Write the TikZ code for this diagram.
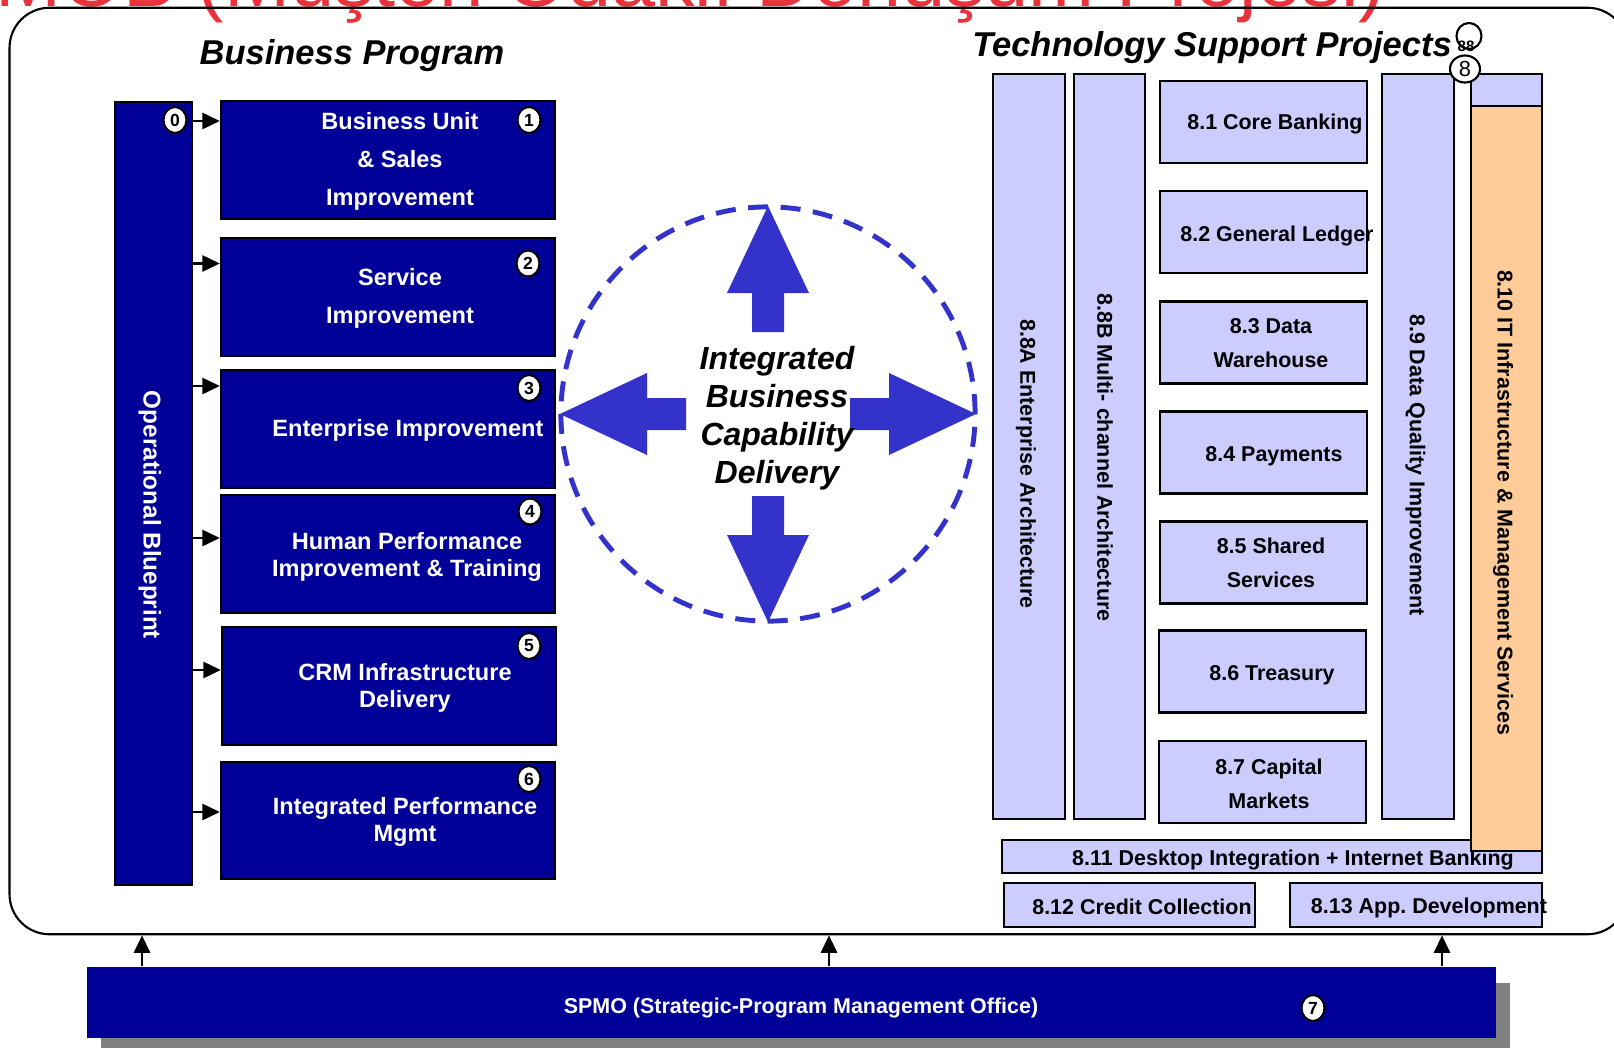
\documentclass[tikz,border=0pt]{standalone}
\usepackage{fontspec}
\setmainfont{Liberation Sans}
\usetikzlibrary{arrows.meta,shapes.geometric}
\definecolor{progblue}{RGB}{0,0,153}
\definecolor{techlilac}{RGB}{204,204,255}
\definecolor{infraorange}{RGB}{255,204,153}
\definecolor{hubblue}{RGB}{51,51,204}
\definecolor{titlered}{RGB}{233,50,60}
\definecolor{shadegray}{RGB}{128,128,128}
\tikzset{
	progbox/.style={draw=black, line width=0.6pt, fill=progblue, minimum width=3.34cm, minimum height=1.18cm, inner sep=0pt},
	progtext/.style={text=white, font=\fontsize{6.7}{10.8}\selectfont\bfseries, align=center, inner sep=0pt},
	progtight/.style={progtext, font=\fontsize{6.7}{7.7}\selectfont\bfseries},
	techbox/.style={draw=black, line width=0.6pt, fill=techlilac, inner sep=0pt},
	techtext/.style={font=\fontsize{6.1}{9.7}\selectfont\bfseries, align=center, inner sep=0pt},
	badge/.style={ellipse, draw=black, line width=0.6pt, fill=white, minimum width=0.23cm, minimum height=0.26cm, inner sep=0pt, font=\fontsize{5}{5}\selectfont\bfseries},
	link/.style={-{Triangle[length=5pt,width=4.6pt]}, line width=0.7pt},
	heading/.style={font=\fontsize{9.8}{11}\selectfont\bfseries\itshape, inner sep=0pt}
}
\begin{document}
\frenchspacing
\begin{tikzpicture}[x=0.01cm, y=-0.01cm]
			\useasboundingbox (0,0) rectangle (1614,1048);
			\begin{scope}
				\clip (0,0) rectangle (1614,1048);
				\node[anchor=base west, inner sep=0pt, text=titlered, font=\fontsize{22.5}{24}\selectfont] (title) at (-5,6) {MOB (Müşteri Odaklı Dönüşüm Projesi)};
				\node[draw=black, line width=0.6pt, rounded corners=0.4cm, minimum width=16.17cm, minimum height=9.26cm] (frame) at (818.5,471) {};
				\node[fill=shadegray, minimum width=14.09cm, minimum height=0.71cm] (spmoshade) at (805.5,1018.5) {};
			\end{scope}
			\node[heading] (bizhead) at (352,56) {Business Program};
			\node[heading] (techhead) at (1212,48) {Technology Support Projects};

			\node[progbox, minimum width=0.77cm, minimum height=7.83cm] (ob) at (153.5,493.5) {};
			\node[progtext, rotate=-90, font=\fontsize{6.9}{8}\selectfont\bfseries] (obtxt) at (150,515) {Operational Blueprint};
			\node[progbox] (b1) at (388,160) {};
			\node[progbox] (b2) at (388,297) {};
			\node[progbox] (b3) at (388,429) {};
			\node[progbox] (b4) at (388,554) {};
			\node[progbox] (b5) at (389,686) {};
			\node[progbox, minimum height=1.17cm] (b6) at (388,820.5) {};
			\node[progtext] (b1txt) at (400,161) {Business Unit\\\& Sales\\Improvement};
			\node[progtext] (b2txt) at (400,298) {Service\\Improvement};
			\node[progtext] (b3txt) at (408,430) {Enterprise Improvement};
			\node[progtight] (b4txt) at (407,556.5) {Human Performance\\Improvement \& Training};
			\node[progtight] (b5txt) at (405,687.5) {CRM Infrastructure\\Delivery};
			\node[progtight] (b6txt) at (405,821.5) {Integrated Performance\\Mgmt};
			\node[badge] (n0) at (175,120) {0};
			\node[badge] (n1) at (529,120) {1};
			\node[badge] (n2) at (528,263.5) {2};
			\node[badge] (n3) at (529,388) {3};
			\node[badge] (n4) at (530,511.5) {4};
			\node[badge] (n5) at (529,646) {5};
			\node[badge] (n6) at (529,779) {6};
			\draw[link] (ob.east |- 0,121) -- (b1.west |- 0,121);
			\draw[link] (ob.east |- 0,263.5) -- (b2.west |- 0,263.5);
			\draw[link] (ob.east |- 0,386) -- (b3.west |- 0,386);
			\draw[link] (ob.east |- 0,538) -- (b4.west |- 0,538);
			\draw[link] (ob.east |- 0,670) -- (b5.west |- 0,670);
			\draw[link] (ob.east |- 0,812) -- (b6.west |- 0,812);

			\node[circle, draw=hubblue, line width=1.4pt, dash pattern=on 5.7pt off 3.55pt, minimum size=4.14cm, inner sep=0pt] (hub) at (768,414) {};
			\foreach \a in {0,90,180,270}
				\fill[hubblue, shift={(hub.center)}, rotate=\a] (82,-16) -- (121,-16) -- (121,-41) -- (208,0) -- (121,41) -- (121,16) -- (82,16) -- cycle;
			\node[font=\fontsize{9.1}{10.8}\selectfont\bfseries\itshape, align=center, inner sep=0pt] (hubtxt) at (777,418) {Integrated\\Business\\Capability\\Delivery};

			\node[techbox, minimum width=0.72cm, minimum height=7.45cm] (v8a) at (1029,446.5) {};
			\node[techbox, minimum width=0.71cm, minimum height=7.45cm] (v8b) at (1109.5,446.5) {};
			\node[techbox, minimum width=0.72cm, minimum height=7.45cm] (v9) at (1418,446.5) {};
			\node[techtext, rotate=-90] (v8atxt) at (1026,464) {8.8A Enterprise Architecture};
			\node[techtext, rotate=-90] (v8btxt) at (1105,457.5) {8.8B Multi- channel Architecture};
			\node[techtext, rotate=-90] (v9txt) at (1415.5,465) {8.9 Data Quality Improvement};
			\node[techbox, minimum width=2.07cm, minimum height=0.82cm] (c1) at (1263.5,122) {};
			\node[techbox, minimum width=2.07cm, minimum height=0.82cm] (c2) at (1263.5,232) {};
			\node[techbox, minimum width=2.07cm, minimum height=0.82cm] (c3) at (1263.5,342.5) {};
			\node[techbox, minimum width=2.07cm, minimum height=0.82cm] (c4) at (1263.5,452.5) {};
			\node[techbox, minimum width=2.07cm, minimum height=0.82cm] (c5) at (1263.5,562.5) {};
			\node[techbox, minimum width=2.07cm, minimum height=0.82cm] (c6) at (1262.5,671.5) {};
			\node[techbox, minimum width=2.07cm, minimum height=0.82cm] (c7) at (1262.5,782) {};
			\node[techtext] (c1txt) at (1275,124) {8.1 Core Banking};
			\node[techtext] (c2txt) at (1277,235.5) {8.2 General Ledger};
			\node[techtext] (c3txt) at (1271,343) {8.3 Data\\Warehouse};
			\node[techtext] (c4txt) at (1274,456) {8.4 Payments};
			\node[techtext] (c5txt) at (1271,563) {8.5 Shared\\Services};
			\node[techtext] (c6txt) at (1272,675) {8.6 Treasury};
			\node[techtext] (c7txt) at (1269,784) {8.7 Capital\\Markets};
			\node[techbox, minimum width=5.40cm, minimum height=0.33cm] (b811) at (1272,856.5) {};
			\node[techtext] (b811txt) at (1293,860) {8.11 Desktop Integration + Internet Banking};
			\node[techbox, minimum width=2.51cm, minimum height=0.44cm] (b812) at (1129.5,905) {};
			\node[techtext] (b812txt) at (1142,906.5) {8.12 Credit Collection};
			\node[techbox, minimum width=2.52cm, minimum height=0.44cm] (b813) at (1416,905) {};
			\node[techtext] (b813txt) at (1429,908) {8.13 App. Development};
			\node[techbox, minimum width=0.71cm, minimum height=0.32cm] (v10top) at (1506.5,90) {};
			\node[techbox, fill=infraorange, minimum width=0.71cm, minimum height=7.45cm] (v10) at (1506.5,478.5) {};
			\node[techtext, rotate=-90] (v10txt) at (1503,502.5) {8.10 IT Infrastructure \& Management Services};
			\node[badge, fill=none, minimum width=0.25cm, minimum height=0.26cm] (n88) at (1469,36) {};
			\node[inner sep=0pt, font=\fontsize{4.3}{5}\selectfont\bfseries] (n88txt) at (1466,46) {88};
			\node[badge, minimum width=0.3cm, minimum height=0.27cm, font=\fontsize{6.2}{7}\selectfont] (n8) at (1465,69) {8};

			\node[fill=progblue, minimum width=14.09cm, minimum height=0.71cm] (spmo) at (791.5,1002.5) {};
			\node[progtext, font=\fontsize{6.1}{7}\selectfont\bfseries] (spmotxt) at (801,1008) {SPMO (Strategic-Program Management Office)};
			\node[badge] (n7) at (1313,1008) {7};
			\foreach \x in {142,829,1442}
				\draw[link] (spmo.north -| \x,0) -- (frame.south -| \x,0);
		\end{tikzpicture}
\end{document}
